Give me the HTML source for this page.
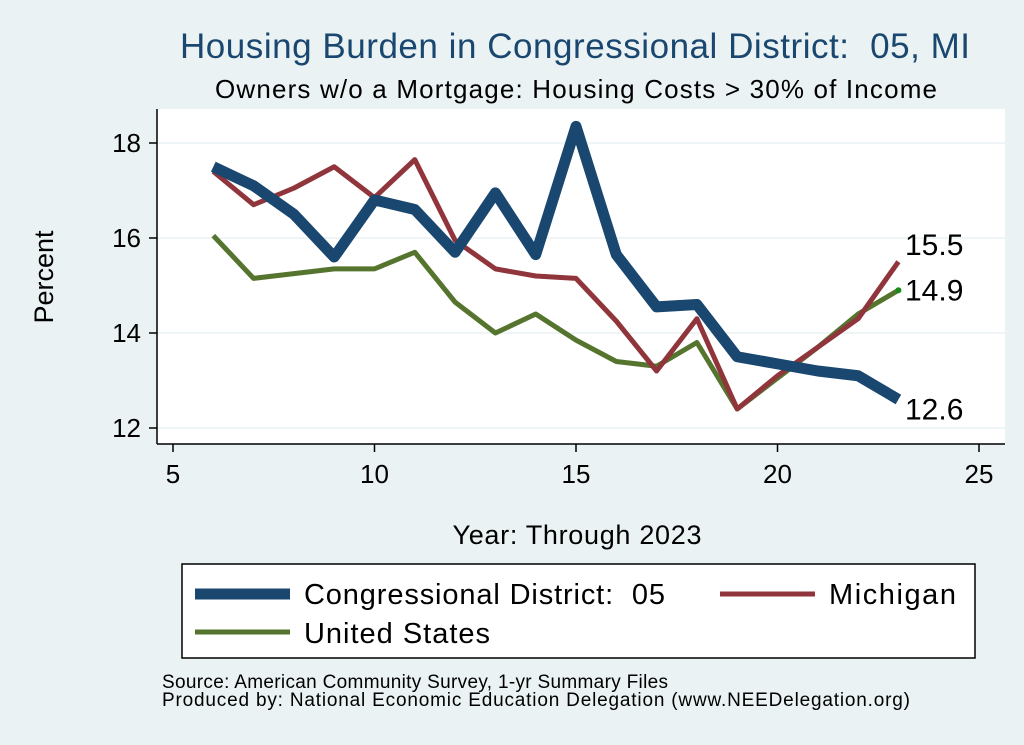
<!DOCTYPE html>
<html><head><meta charset="utf-8"><style>
html,body{margin:0;padding:0;background:#eaf2f3;}
svg{display:block;font-family:"Liberation Sans",Arial,sans-serif;}
text{white-space:pre;}
</style></head><body>
<svg id="chart" width="1024" height="745" viewBox="0 0 1024 745">
<rect x="0" y="0" width="1024" height="745" fill="#eaf2f3"/>
<text x="575" y="58" text-anchor="middle" font-size="35" fill="#1a476f" textLength="790">Housing Burden in Congressional District:  05, MI</text>
<text x="576" y="98" text-anchor="middle" font-size="26" fill="#000" textLength="722">Owners w/o a Mortgage: Housing Costs &gt; 30% of Income</text>
<rect x="157" y="109" width="848" height="335" fill="#fff"/>
<g id="grid"></g>
<g id="axes"></g>
<g id="series"></g>
<text transform="translate(53,277) rotate(-90)" text-anchor="middle" font-size="27">Percent</text>
<text x="577" y="544" text-anchor="middle" font-size="27" textLength="249">Year: Through 2023</text>
<g>
<rect x="182" y="564" width="793" height="94" fill="#fff" stroke="#000" stroke-width="1.5"/>
<line x1="195" y1="594" x2="290" y2="594" stroke="#1a476f" stroke-width="11"/>
<text x="304" y="604" font-size="29" textLength="361">Congressional District:  05</text>
<line x1="720" y1="594" x2="815" y2="594" stroke="#90353b" stroke-width="5"/>
<text x="829" y="604" font-size="29" textLength="127">Michigan</text>
<line x1="195" y1="632" x2="290" y2="632" stroke="#55752f" stroke-width="5"/>
<text x="304" y="643" font-size="29" textLength="186">United States</text>
</g>
<text x="162" y="688" font-size="19" textLength="506">Source: American Community Survey, 1-yr Summary Files</text>
<text x="162" y="706" font-size="19" textLength="748">Produced by: National Economic Education Delegation (www.NEEDelegation.org)</text>
</svg>
<script>
const years=[6,7,8,9,10,11,12,13,14,15,16,17,18,19,20,21,22,23];
const district=[17.5,17.1,16.5,15.6,16.8,16.6,15.7,16.95,15.65,18.35,15.65,14.55,14.6,13.5,13.35,13.2,13.1,12.6];
const michigan=[17.4,16.7,17.05,17.5,16.85,17.65,15.95,15.35,15.2,15.15,14.25,13.2,14.3,12.4,13.1,13.7,14.3,15.5];
const us=[16.05,15.15,15.25,15.35,15.35,15.7,14.65,14.0,14.4,13.85,13.4,13.3,13.8,12.4,13.05,13.7,14.4,14.9];
const xTicks=[5,10,15,20,25];
const yTicks=[12,14,16,18];
const NS='http://www.w3.org/2000/svg';
function X(v){return 173+(v-5)*40.3;}
function Y(v){return 428-(v-12)*47.5;}
function mk(tag,attrs,parent,text){const e=document.createElementNS(NS,tag);for(const k in attrs)e.setAttribute(k,attrs[k]);if(text!==undefined)e.textContent=text;parent.appendChild(e);return e;}
const grid=document.getElementById('grid'),axes=document.getElementById('axes'),series=document.getElementById('series');
yTicks.forEach(t=>{
 let g=mk('line',{x1:157,x2:1005,y1:Y(t),y2:Y(t),stroke:'#eaf2f3','stroke-width':1.5},grid);
 
 
 let tk=mk('line',{x1:149,x2:157,y1:Y(t),y2:Y(t),stroke:'#000','stroke-width':1.5},axes);
 
 
 let l=mk('text',{x:141,y:Y(t)+9,'text-anchor':'end','font-size':26},axes,String(t));
 
 
});
xTicks.forEach(t=>{
 let tk=mk('line',{x1:X(t),x2:X(t),y1:444,y2:452,stroke:'#000','stroke-width':1.5},axes);
 
 
 let l=mk('text',{x:X(t),y:483,'text-anchor':'middle','font-size':26},axes,String(t));
 
 
});
let ya=mk('line',{x1:157,x2:157,y1:109,y2:444,stroke:'#000','stroke-width':1.5},axes);


let xa=mk('line',{x1:157,x2:1005,y1:444,y2:444,stroke:'#000','stroke-width':1.5},axes);


function line(vals,color,w,name){
 const p=mk('polyline',{points:vals.map((v,i)=>X(years[i])+','+Y(v)).join(' '),fill:'none',stroke:color,'stroke-width':w,'stroke-linejoin':'round'},series);
 
 
}
line(us,'#55752f',5,'us-line');
line(michigan,'#90353b',5,'michigan-line');
line(district,'#1a476f',11,'district-line');
const last=years.length-1;
let dot=mk('circle',{cx:X(years[last]),cy:Y(us[last]),r:3,fill:'#1a8a1a'},series);


[[michigan[last],-7],[us[last],10],[district[last],20]].forEach(d=>{
 let l=mk('text',{x:905,y:Y(d[0])+d[1],'font-size':30},series,d[0].toFixed(1));
 
 
});
</script>
</body></html>
